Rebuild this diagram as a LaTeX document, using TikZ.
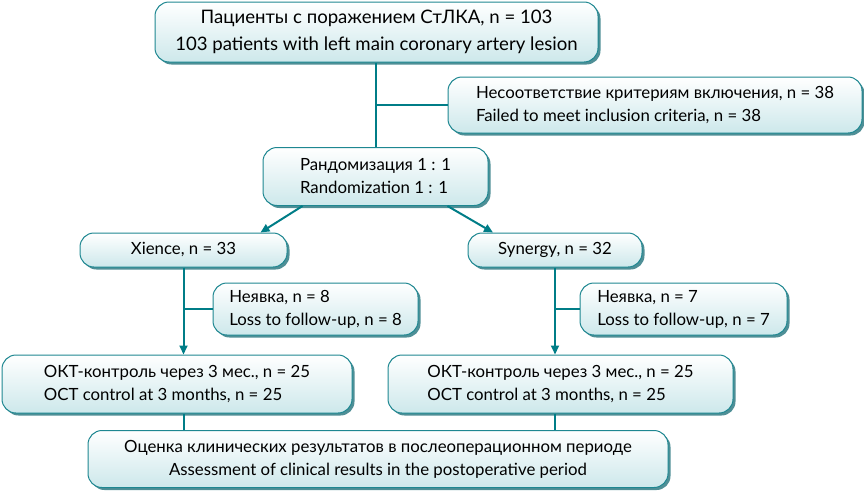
\documentclass[tikz,border=0pt]{standalone}
\usepackage{fontspec}
\setmainfont{Lato}
\usetikzlibrary{arrows.meta,positioning,calc,shadows}
\definecolor{boxline}{RGB}{30,135,145}
\definecolor{boxfill}{RGB}{205,232,235}
\definecolor{boxshade}{RGB}{20,105,115}
\definecolor{linkcolor}{RGB}{0,125,135}
\tikzset{
  flowbox/.style = {rounded corners=14pt, draw=boxline, line width=1pt,
                    top color=white, bottom color=boxfill, inner sep=0pt,
                    font=\fontsize{16.8}{23}\selectfont,
                    drop shadow={shadow xshift=2.5pt, shadow yshift=-2.5pt,
                                 fill=boxshade, opacity=0.75}},
  leftbox/.style  = {flowbox, align=left},
  midbox/.style   = {flowbox, align=center},
  conn/.style     = {-{Triangle[length=9pt,width=8pt]},
                     line width=2pt, draw=linkcolor},
  link/.style     = {line width=2pt, draw=linkcolor}
}

\begin{document}
\begin{tikzpicture}[x=1pt,y=-1pt]
\useasboundingbox (0,0) rectangle (864,490);

% --- screening ---
\node[midbox, minimum width=443pt, minimum height=60pt,
      font=\fontsize{18.6}{27}\selectfont] (patients) at (376.5,32)
  {Пациенты с поражением СтЛКА, n = 103\\103 patients with left main coronary artery lesion};
\node[leftbox, minimum width=414pt, minimum height=56pt] (excl) at (655,105)
  {Несоответствие критериям включения, n = 38\\Failed to meet inclusion criteria, n = 38};
\node[leftbox, minimum width=225pt, minimum height=58pt] (rand) at (375.5,176.5)
  {Рандомизация 1 : 1\\Randomization 1 : 1};

% --- study arms ---
\node[midbox, minimum width=207pt, minimum height=34pt] (xience) at (183.5,250)
  {Xience, n = 33};
\node[midbox, minimum width=174pt, minimum height=34pt] (synergy) at (555,250)
  {Synergy, n = 32};
\node[leftbox, minimum width=205pt, minimum height=52pt] (lossA) at (315.5,309)
  {Неявка, n = 8\\Loss to follow-up, n = 8};
\node[leftbox, minimum width=207pt, minimum height=52pt] (lossB) at (683.5,309)
  {Неявка, n = 7\\Loss to follow-up, n = 7};
\node[leftbox, minimum width=350pt, minimum height=58pt] (octA) at (177,384)
  {ОКТ-контроль через 3 мес., n = 25\\OCT control at 3 months, n = 25};
\node[leftbox, minimum width=345pt, minimum height=58pt] (octB) at (560.5,384)
  {ОКТ-контроль через 3 мес., n = 25\\OCT control at 3 months, n = 25};

% --- outcome ---
\node[midbox, minimum width=580pt, minimum height=57pt] (assess) at (378,459)
  {Оценка клинических результатов в послеоперационном периоде\\Assessment of clinical results in the postoperative period};

% --- connections ---
\draw[link] (patients.south -| rand.north) -- (rand.north);
\draw[link] (rand.north |- excl.west) -- (excl.west);
\draw[conn] ($(rand.south)+(-73,0)$) -- ($(xience.north)+(77,0)$);
\draw[conn] ($(rand.south)+(72,0)$) -- ($(synergy.north)+(-62,0)$);

\draw[conn] (xience.south) -- (xience.south |- octA.north);
\draw[link] (xience.south |- lossA.west) -- (lossA.west);
\draw[conn] (synergy.south) -- (synergy.south |- octB.north);
\draw[link] (synergy.south |- lossB.west) -- (lossB.west);

\draw[link] (octA.south -| xience.south) -- (assess.north -| xience.south);
\draw[link] (octB.south -| synergy.south) -- (assess.north -| synergy.south);

\end{tikzpicture}
\end{document}
